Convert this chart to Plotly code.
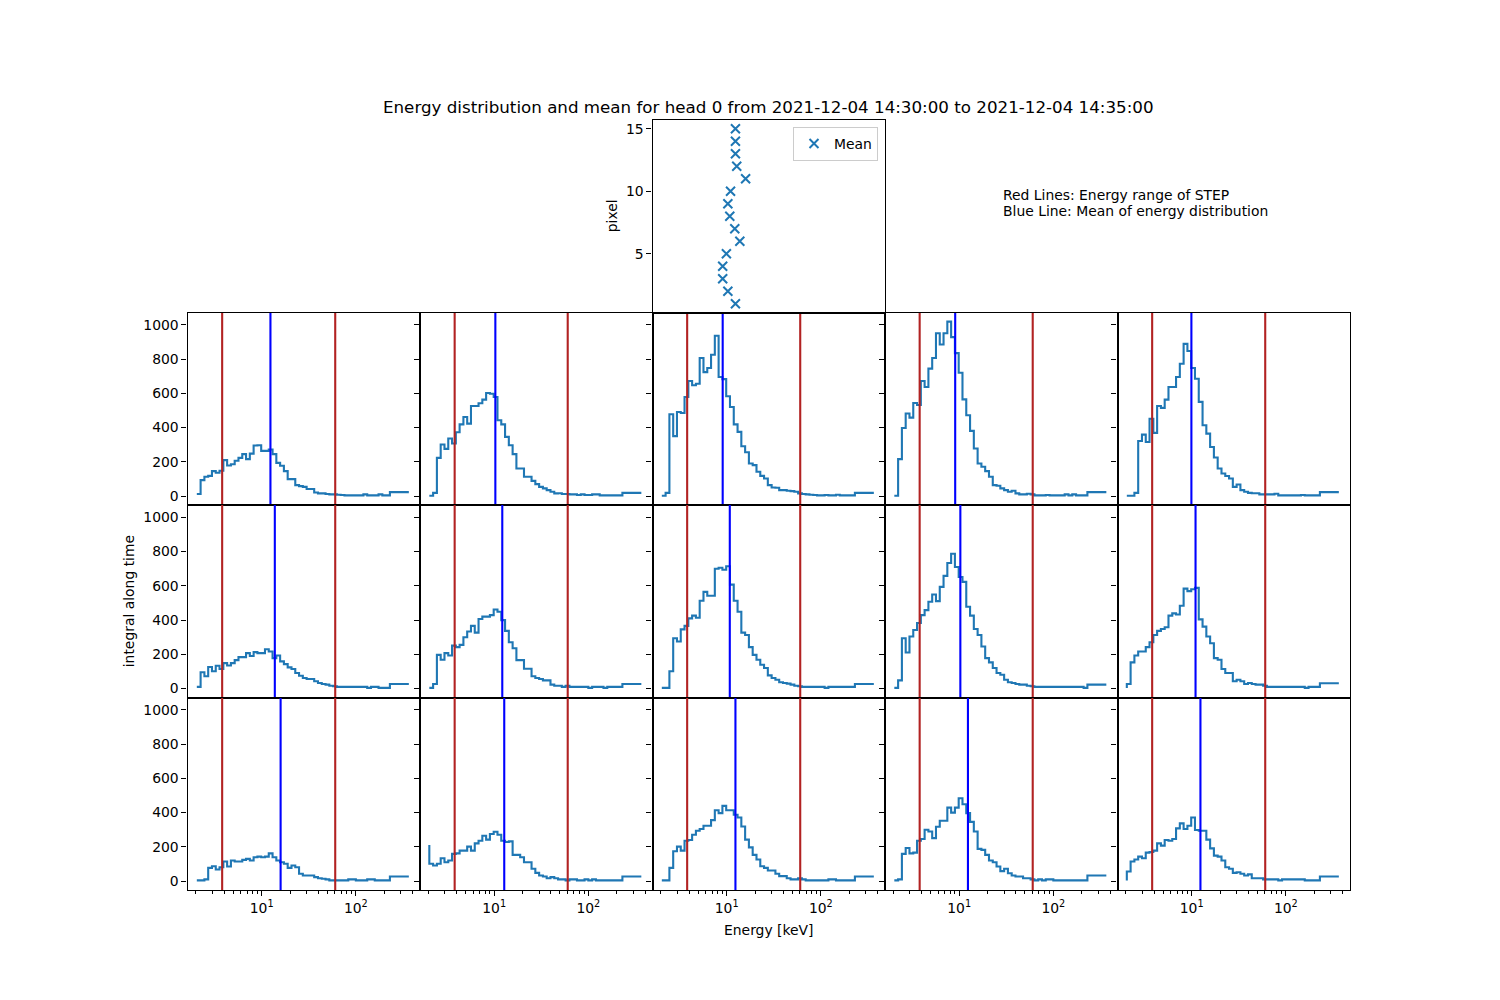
import plotly.graph_objects as go

# ---------------- data ----------------
energy_keV = [2.051, 2.250, 2.468, 2.708, 2.970, 3.258, 3.574, 3.921, 4.301, 4.718,
              5.175, 5.677, 6.227, 6.831, 7.493, 8.220, 9.017, 9.891, 10.85, 11.90,
              13.06, 14.32, 15.71, 17.23, 18.90, 20.74, 22.75, 24.95, 27.37, 30.03,
              32.94, 36.13, 39.63, 43.47, 47.69, 52.31, 57.38, 62.95, 69.05, 75.74,
              83.09, 91.14, 99.98, 109.7, 120.3, 132.0, 144.8, 158.8, 174.2, 191.1,
              209.6, 229.9, 252.2, 276.7, 303.5, 332.9, 365.2]

pixel_01 = [12, 12, 93, 113, 118, 146, 136, 148, 210, 179, 186, 206, 223, 245, 216, 248, 295, 297, 264, 264, 272, 245, 194, 177, 146, 99, 99, 64, 58, 54, 41, 41, 21, 16, 16, 12, 10, 10, 8, 6, 4, 4, 4, 4, 4, 10, 4, 4, 4, 10, 4, 4, 23, 23, 23, 23, 23]
pixel_02 = [2, 2, 19, 223, 301, 276, 336, 307, 373, 419, 462, 423, 526, 526, 542, 563, 602, 598, 579, 443, 419, 346, 297, 245, 161, 161, 113, 113, 89, 70, 54, 45, 35, 25, 16, 17, 12, 12, 10, 10, 6, 10, 6, 6, 10, 10, 4, 4, 4, 4, 4, 4, 19, 19, 19, 19, 19]
pixel_03 = [2, 2, 19, 478, 350, 491, 485, 579, 672, 647, 656, 806, 724, 748, 825, 936, 695, 683, 583, 520, 419, 375, 291, 256, 190, 181, 142, 118, 103, 64, 50, 49, 35, 35, 31, 29, 25, 16, 12, 10, 8, 6, 4, 4, 6, 4, 4, 8, 4, 4, 4, 4, 19, 19, 19, 19, 19]
pixel_04 = [2, 2, 216, 398, 482, 458, 544, 532, 672, 637, 744, 806, 951, 885, 951, 1019, 928, 835, 720, 565, 472, 381, 278, 190, 171, 146, 113, 64, 60, 45, 35, 25, 31, 16, 10, 10, 14, 10, 4, 4, 4, 6, 4, 4, 4, 4, 10, 4, 10, 4, 4, 4, 23, 23, 23, 23, 23]
pixel_05 = [2, 2, 2, 19, 322, 359, 316, 452, 369, 526, 515, 563, 637, 637, 695, 773, 889, 847, 748, 685, 550, 414, 365, 287, 225, 161, 132, 117, 103, 54, 68, 35, 25, 19, 17, 17, 10, 10, 10, 10, 14, 4, 4, 4, 4, 4, 4, 6, 4, 4, 4, 4, 23, 23, 23, 23, 23]
pixel_06 = [10, 10, 95, 72, 126, 101, 133, 114, 149, 135, 149, 166, 184, 184, 207, 190, 213, 207, 207, 230, 217, 178, 193, 159, 143, 124, 114, 91, 75, 62, 56, 56, 43, 33, 27, 23, 17, 14, 10, 10, 10, 10, 10, 10, 10, 10, 4, 10, 10, 4, 4, 4, 27, 27, 27, 27, 27]
pixel_07 = [4, 4, 27, 197, 168, 207, 193, 251, 242, 255, 300, 333, 366, 327, 406, 420, 420, 429, 462, 449, 400, 337, 271, 236, 166, 166, 116, 116, 72, 62, 56, 48, 48, 23, 17, 17, 10, 17, 10, 10, 10, 10, 10, 4, 10, 10, 10, 4, 10, 10, 10, 10, 27, 27, 27, 27, 27]
pixel_08 = [4, 4, 4, 101, 294, 275, 346, 366, 410, 426, 414, 513, 565, 542, 542, 700, 706, 694, 714, 607, 513, 449, 327, 313, 242, 197, 168, 139, 120, 77, 62, 52, 37, 33, 29, 23, 17, 14, 10, 10, 10, 10, 10, 10, 4, 10, 10, 10, 10, 10, 10, 10, 27, 27, 27, 27, 27]
pixel_09 = [4, 4, 48, 294, 211, 304, 342, 383, 429, 458, 507, 549, 511, 594, 658, 733, 787, 710, 652, 623, 478, 426, 348, 313, 246, 178, 153, 120, 91, 81, 52, 37, 33, 27, 23, 23, 17, 14, 10, 10, 10, 10, 10, 10, 10, 10, 10, 10, 10, 10, 10, 4, 23, 23, 23, 23, 23]
pixel_10 = [4, 27, 153, 193, 217, 217, 242, 271, 313, 337, 348, 358, 426, 439, 433, 484, 584, 569, 580, 588, 404, 362, 304, 265, 178, 168, 114, 91, 91, 43, 52, 43, 27, 33, 27, 23, 23, 17, 10, 10, 10, 10, 10, 10, 10, 10, 10, 10, 4, 10, 10, 10, 31, 31, 31, 31, 31]
pixel_11 = [4, 4, 4, 10, 77, 87, 68, 81, 114, 85, 120, 114, 114, 124, 130, 120, 139, 143, 139, 143, 162, 139, 120, 110, 101, 77, 91, 81, 43, 33, 33, 33, 23, 17, 14, 10, 4, 4, 4, 4, 4, 10, 10, 4, 4, 4, 10, 10, 4, 4, 4, 4, 27, 27, 27, 27, 27]
pixel_12 = [211, 101, 91, 101, 133, 110, 120, 159, 162, 178, 178, 201, 178, 220, 236, 265, 242, 275, 288, 271, 236, 228, 232, 153, 153, 139, 110, 110, 72, 48, 33, 27, 17, 23, 17, 10, 10, 4, 10, 10, 4, 4, 10, 4, 10, 4, 4, 4, 4, 4, 4, 4, 27, 27, 27, 27, 27]
pixel_13 = [4, 4, 4, 77, 174, 201, 178, 236, 240, 271, 294, 304, 323, 323, 356, 414, 397, 439, 414, 414, 387, 371, 319, 242, 197, 153, 126, 87, 77, 62, 62, 43, 29, 29, 17, 10, 10, 17, 10, 4, 4, 4, 4, 4, 4, 10, 10, 4, 4, 4, 4, 4, 27, 27, 27, 27, 27]
pixel_14 = [4, 4, 10, 159, 193, 162, 166, 236, 246, 300, 290, 251, 317, 352, 352, 429, 400, 429, 484, 449, 397, 346, 290, 188, 182, 153, 120, 110, 85, 58, 72, 46, 33, 27, 27, 17, 17, 10, 4, 10, 4, 10, 10, 4, 4, 4, 4, 4, 4, 4, 4, 4, 33, 33, 33, 33, 33]
pixel_15 = [4, 56, 114, 126, 143, 133, 166, 170, 178, 220, 207, 240, 236, 246, 308, 337, 304, 323, 371, 298, 294, 294, 242, 191, 149, 143, 120, 81, 72, 48, 52, 43, 33, 39, 17, 17, 17, 10, 10, 10, 10, 4, 10, 10, 10, 10, 10, 10, 4, 4, 4, 4, 27, 27, 27, 27, 27]

pixel_index = [1, 2, 3, 4, 5, 6, 7, 8, 9, 10, 11, 12, 13, 14, 15]
mean_keV = [12.4, 10.3, 9.08, 9.08, 9.94, 13.8, 12.2, 10.8, 10.3, 11.0, 15.9, 12.8, 12.4, 12.4, 12.4]
step_range_keV = [3.81, 60.4]

count_ticks = [0, 200, 400, 600, 800, 1000]
pixel_ticks = [5, 10, 15]
energy_ticks = [10, 100]
energy_tick_text = ["10<sup>1</sup>", "10<sup>2</sup>"]
energy_minor = [2, 3, 4, 5, 6, 7, 8, 9, 20, 30, 40, 50, 60, 70, 80, 90, 200, 300, 400]

title_text = "Energy distribution and mean for head 0 from 2021-12-04 14:30:00 to 2021-12-04 14:35:00"
info_lines = ["Red Lines: Energy range of STEP", "Blue Line: Mean of energy distribution"]

all_counts = [pixel_01, pixel_02, pixel_03, pixel_04, pixel_05, pixel_06, pixel_07, pixel_08,
              pixel_09, pixel_10, pixel_11, pixel_12, pixel_13, pixel_14, pixel_15]
for c in all_counts:
    assert len(c) == len(energy_keV)

# ---------------- layout geometry ----------------
W, H = 1500, 1000
LEFT, RIGHT, TOP, BOTTOM = 187.5, 1350.0, 120.0, 890.0
NCOL, NROW = 5, 4
CW = (RIGHT - LEFT) / NCOL
RH = (BOTTOM - TOP) / NROW
FONT = "DejaVu Sans"
FS = 13.9
XR = [0.213, 2.681]
YR = [-52, 1072]
PR = [0.3, 15.7]
HIST_C = "#1f77b4"
RED_C = "#b22222"
BLUE_C = "#0000ff"


def xdom(c):
    return [(LEFT + c * CW) / W, (LEFT + (c + 1) * CW) / W]


def ydom(r):
    return [1 - (TOP + (r + 1) * RH) / H, 1 - (TOP + r * RH) / H]


def px(x):
    return x / W


def py(y):
    return 1 - y / H


fig = go.Figure()
layout = {}

base_axis = dict(showline=True, mirror=True, linecolor="black", linewidth=1.1,
                 showgrid=False, zeroline=False, tickcolor="black", tickwidth=1.1,
                 ticklen=5, tickfont=dict(family=FONT, size=FS, color="black"))

for i, counts in enumerate(all_counts):
    n = i + 1
    r = 1 + i // NCOL
    c = i % NCOL
    sfx = "" if n == 1 else str(n)
    xa, ya = "x" + sfx, "y" + sfx
    fig.add_trace(go.Scatter(x=energy_keV, y=counts, mode="lines",
                             line=dict(color=HIST_C, width=2.1, shape="vh"),
                             xaxis=xa, yaxis=ya, showlegend=False, hoverinfo="skip"))
    for v in step_range_keV:
        fig.add_trace(go.Scatter(x=[v, v], y=YR, mode="lines",
                                 line=dict(color=RED_C, width=2.1),
                                 xaxis=xa, yaxis=ya, showlegend=False, hoverinfo="skip"))
    fig.add_trace(go.Scatter(x=[mean_keV[i], mean_keV[i]], y=YR, mode="lines",
                             line=dict(color=BLUE_C, width=2.1),
                             xaxis=xa, yaxis=ya, showlegend=False, hoverinfo="skip"))
    bottom = (r == NROW - 1)
    xax = dict(base_axis, type="log", range=XR, domain=xdom(c), anchor=ya,
               ticks="outside" if bottom else "", showticklabels=bottom,
               tickmode="array", tickvals=energy_ticks, ticktext=energy_tick_text)
    if bottom:
        xax["minor"] = dict(ticks="outside", ticklen=2.8, tickwidth=0.8, tickcolor="black",
                            tickmode="array", tickvals=energy_minor)
    layout["xaxis" + sfx] = xax
    layout["yaxis" + sfx] = dict(base_axis, range=YR, domain=ydom(r), anchor=xa,
                                 ticks="outside", showticklabels=(c == 0),
                                 tickmode="array", tickvals=count_ticks)

# top panel: mean energy per pixel
fig.add_trace(go.Scatter(x=mean_keV, y=pixel_index, mode="markers", name="Mean",
                         marker=dict(symbol="x-thin", size=9, color=HIST_C,
                                     line=dict(color=HIST_C, width=2)),
                         xaxis="x16", yaxis="y16", showlegend=True, hoverinfo="skip"))
layout["xaxis16"] = dict(base_axis, type="log", range=XR, domain=xdom(2), anchor="y16",
                         ticks="", showticklabels=False)
layout["yaxis16"] = dict(base_axis, range=PR, domain=ydom(0), anchor="x16",
                         ticks="outside", tickmode="array", tickvals=pixel_ticks)

annotations = [
    dict(text=title_text, x=px(LEFT + 2.5 * CW), y=py(106.5), xref="paper", yref="paper",
         xanchor="center", yanchor="middle", showarrow=False,
         font=dict(family=FONT, size=16.7, color="black")),
    dict(text="pixel", x=px(612), y=py(TOP + RH / 2), xref="paper", yref="paper",
         xanchor="center", yanchor="middle", textangle=-90, showarrow=False,
         font=dict(family=FONT, size=FS, color="black")),
    dict(text="integral along time", x=px(129), y=py(TOP + 2.5 * RH), xref="paper", yref="paper",
         xanchor="center", yanchor="middle", textangle=-90, showarrow=False,
         font=dict(family=FONT, size=FS, color="black")),
    dict(text="Energy [keV]", x=px(LEFT + 2.5 * CW), y=py(930), xref="paper", yref="paper",
         xanchor="center", yanchor="middle", showarrow=False,
         font=dict(family=FONT, size=FS, color="black")),
]
for k, line in enumerate(info_lines):
    annotations.append(dict(text=line, x=px(1001), y=py(195 + 16 * k), xref="paper", yref="paper",
                            xanchor="left", yanchor="middle", showarrow=False,
                            font=dict(family=FONT, size=FS, color="black")))

layout.update(
    width=W, height=H, autosize=False,
    margin=dict(l=0, r=0, t=0, b=0, pad=0),
    paper_bgcolor="white", plot_bgcolor="white",
    font=dict(family=FONT, size=FS, color="black"),
    annotations=annotations,
    legend=dict(x=px(878), y=py(127), xanchor="right", yanchor="top",
                bgcolor="rgba(255,255,255,0.8)", bordercolor="#cccccc", borderwidth=1,
                font=dict(family=FONT, size=FS, color="black"), tracegroupgap=0),
    showlegend=True,
)
fig.update_layout(layout)

fig.write_html("out.html", config={"displayModeBar": False},
               post_script="document.body.style.margin='0';document.body.style.overflow='hidden';")
